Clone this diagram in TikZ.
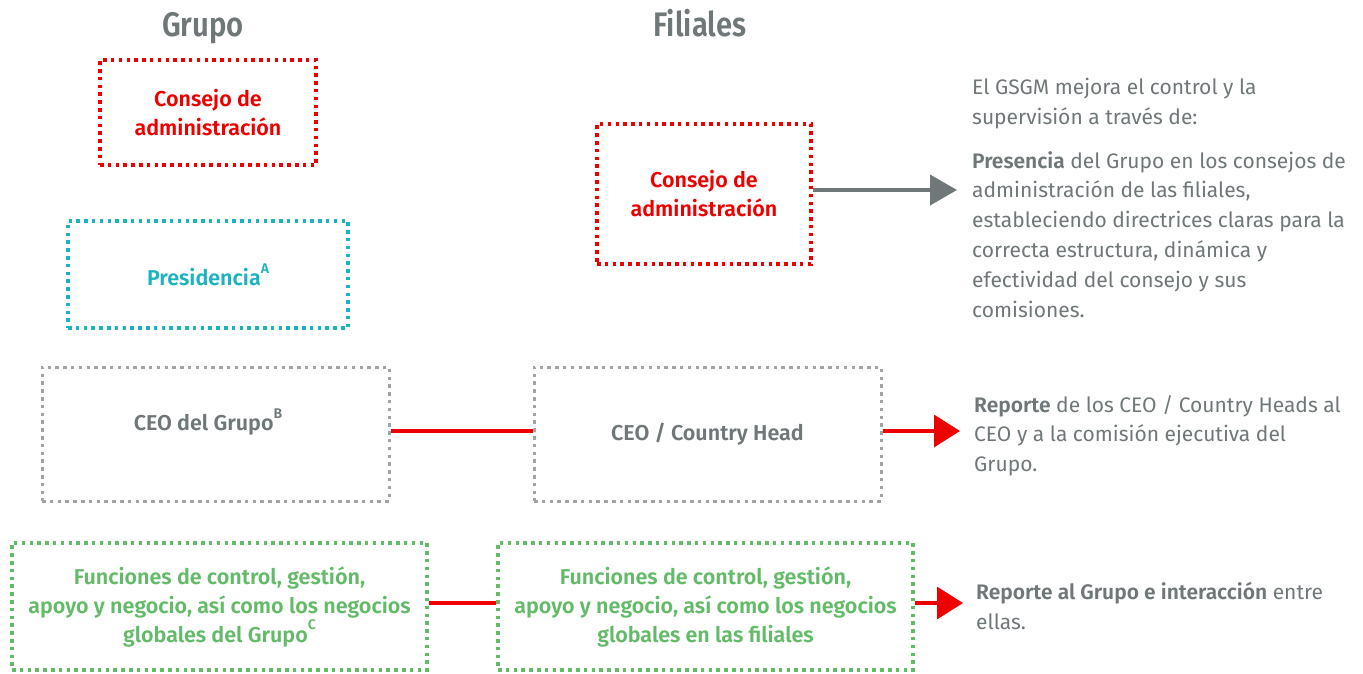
\documentclass[tikz,border=0pt]{standalone}
\usepackage{fontspec}
\setmainfont{Fira Sans}[BoldFont={Fira Sans SemiBold}]
\newfontfamily\headfont{Fira Sans}[BoldFont={Fira Sans SemiBold},FakeStretch=0.86]
\usetikzlibrary{arrows.meta}
\definecolor{sred}{HTML}{EC0000}
\definecolor{steal}{HTML}{1BB4BE}
\definecolor{sgreen}{HTML}{63BA68}
\definecolor{sgray}{HTML}{6F7779}
\definecolor{boxgray}{HTML}{A3A3A3}
\newcommand\supmark[1]{\raisebox{0.56em}{\fontsize{14}{14}\selectfont #1}}
\tikzset{
  dotbox/.style={draw, rectangle, line width=3.5pt, dash pattern=on 3.5pt off 4.3pt,
    inner sep=0pt, align=center, font=\fontsize{21.5}{29}\selectfont\bfseries},
  redbox/.style={dotbox, draw=sred, text=sred},
  tealbox/.style={dotbox, draw=steal, text=steal},
  graybox/.style={dotbox, draw=boxgray, line width=3pt, text=sgray},
  greenbox/.style={dotbox, draw=sgreen, text=sgreen},
  boxtext/.style={inner sep=0pt, align=center, font=\fontsize{21.5}{29}\selectfont\bfseries},
  title/.style={anchor=base, text=sgray, font=\fontsize{34}{36}\selectfont\headfont\bfseries},
  rtext/.style={anchor=north west, inner sep=0pt, align=left, text=sgray,
    font=\fontsize{21}{29.8}\selectfont},
  redline/.style={draw=sred, line width=3.5pt},
  redarrow/.style={redline, -{Triangle[length=26pt,width=32pt]}},
  grayarrow/.style={draw=sgray, line width=4pt, -{Triangle[length=27pt,width=30pt]}}
}
\begin{document}
\begin{tikzpicture}[x=1pt,y=-1pt]
\useasboundingbox (0,0) rectangle (1363,673);
% titles
\node[title] (tg) at (203,36) {Grupo};
\node[title] (tf) at (700,36) {Filiales};
% Grupo column
\node[redbox, minimum width=216pt, minimum height=105pt] (gcons) at (208,112.5) {Consejo de\\administración};
\node[tealbox, minimum width=280pt, minimum height=107pt] (pres) at (208,274.5) {Presidencia\supmark{A}};
\node[graybox, minimum width=347pt, minimum height=134pt] (gceo) at (215.5,434) {};
\node[boxtext, text=sgray] (gceot) at (208,422) {CEO del Grupo\supmark{B}};
\node[greenbox, minimum width=415pt, minimum height=127pt] (gfun) at (219.5,606.5) {Funciones de control, gestión,\\apoyo y negocio, así como los negocios\\globales del Grupo\supmark{C}};
% Filiales column
\node[redbox, minimum width=214pt, minimum height=140pt] (fcons) at (704,194) {Consejo de\\administración};
\node[graybox, minimum width=347pt, minimum height=134pt] (fceo) at (707.5,434) {CEO / Country Head};
\node[greenbox, minimum width=415pt, minimum height=127pt] (ffun) at (705.5,606.5) {Funciones de control, gestión,\\apoyo y negocio, así como los negocios\\globales en las filiales};
% arrow end points
\coordinate (ga) at (957,190);
\coordinate (ra1) at (960,431);
\coordinate (ra2) at (963,603);
% connectors
\draw[grayarrow] (fcons.east |- ga) -- (ga);
\draw[redline] (gceo.east |- ra1) -- (fceo.west |- ra1);
\draw[redarrow] (fceo.east |- ra1) -- (ra1);
\draw[redline] (gfun.east |- ra2) -- (ffun.west |- ra2);
\draw[redarrow] (ffun.east |- ra2) -- (ra2);
% right texts
\node[rtext] (t1) at (972,78) {El GSGM mejora el control y la\\supervisión a través de:};
\node[rtext] (t2) at (972,151) {\textbf{Presencia} del Grupo en los consejos de\\administración de las filiales,\\estableciendo directrices claras para la\\correcta estructura, dinámica y\\efectividad del consejo y sus\\comisiones.};
\node[rtext] (t3) at (974,395) {\textbf{Reporte} de los CEO / Country Heads al\\CEO y a la comisión ejecutiva del\\Grupo.};
\node[rtext] (t4) at (976,582) {\textbf{Reporte al Grupo e interacción} entre\\ellas.};
\end{tikzpicture}
\end{document}
